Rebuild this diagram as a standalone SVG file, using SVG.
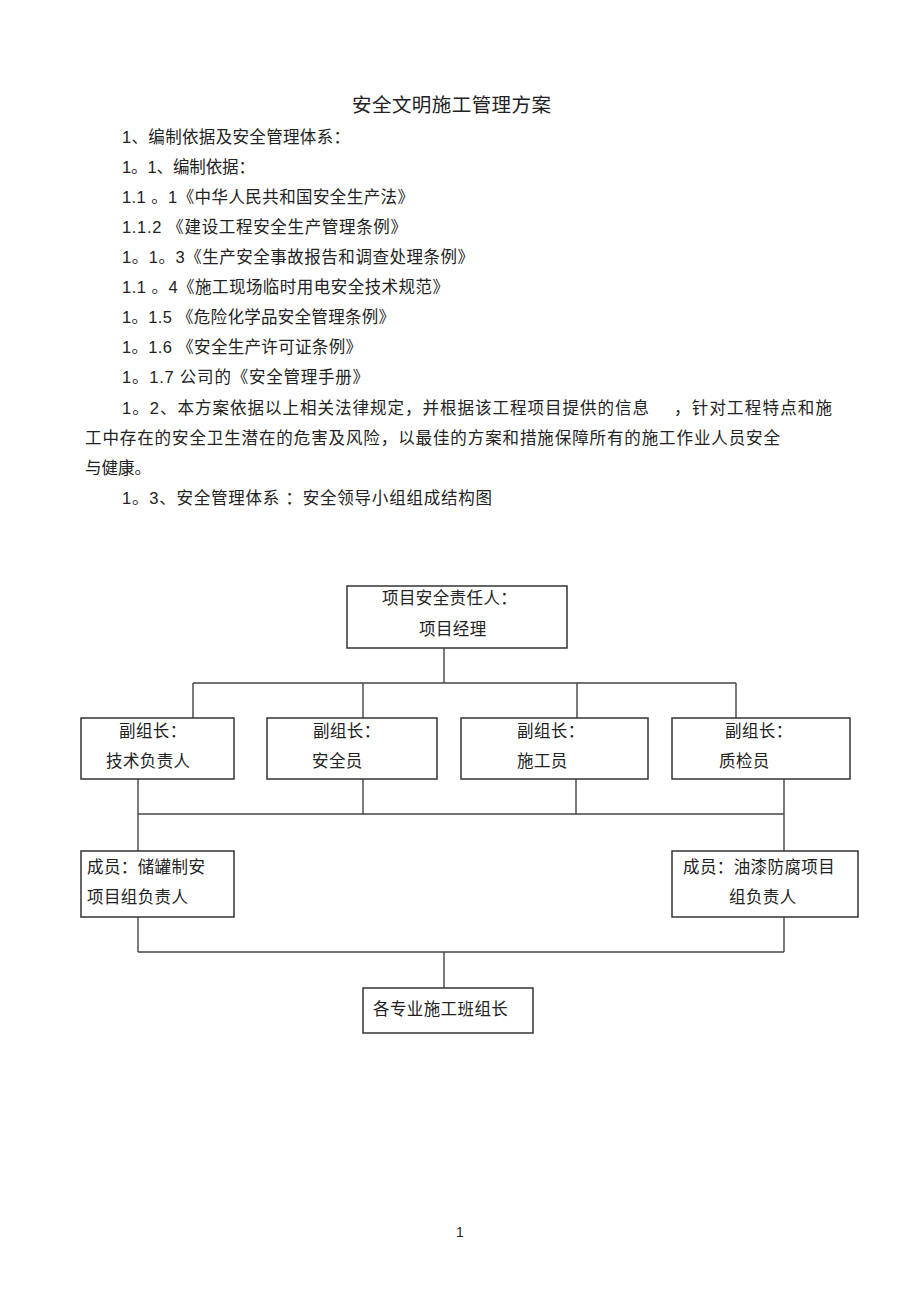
<svg xmlns="http://www.w3.org/2000/svg" width="920" height="1303" viewBox="0 0 920 1303">
<style>
.t{font-family:"Liberation Sans","Noto Sans CJK SC",sans-serif;font-size:16.5px;fill:#222}
.c{font-family:"Liberation Serif","Noto Sans CJK SC",serif;font-size:16.5px;fill:#222;letter-spacing:0.4px}
.box{fill:#fff;stroke:#333;stroke-width:1.5}
.ln{fill:none;stroke:#444;stroke-width:1.4}
</style>
<rect width="920" height="1303" fill="#fff"/>
<g id="text">
<text class="t" x="352" y="112" style="font-size:19.5px" textLength="199" lengthAdjust="spacing">安全文明施工管理方案</text>
<text class="t" x="122" y="143" textLength="228" lengthAdjust="spacing">1、编制依据及安全管理体系：</text>
<text class="t" x="122" y="173" textLength="133" lengthAdjust="spacing">1。1、编制依据：</text>
<text class="t" x="122" y="203" textLength="292" lengthAdjust="spacing">1.1 。1《中华人民共和国安全生产法》</text>
<text class="t" x="122" y="233" textLength="285" lengthAdjust="spacing">1.1.2 《建设工程安全生产管理条例》</text>
<text class="t" x="122" y="263" textLength="352" lengthAdjust="spacing">1。1。3《生产安全事故报告和调查处理条例》</text>
<text class="t" x="122" y="293" textLength="327" lengthAdjust="spacing">1.1 。4《施工现场临时用电安全技术规范》</text>
<text class="t" x="122" y="323" textLength="273" lengthAdjust="spacing">1。1.5 《危险化学品安全管理条例》</text>
<text class="t" x="122" y="353" textLength="240" lengthAdjust="spacing">1。1.6 《安全生产许可证条例》</text>
<text class="t" x="122" y="383" textLength="247" lengthAdjust="spacing">1。1.7  公司的《安全管理手册》</text>
<text class="t" x="122" y="414" textLength="527" lengthAdjust="spacing">1。2、本方案依据以上相关法律规定，并根据该工程项目提供的信息</text>
<text class="t" x="674" y="414" textLength="158" lengthAdjust="spacing">，针对工程特点和施</text>
<text class="t" x="85" y="444" textLength="695" lengthAdjust="spacing">工中存在的安全卫生潜在的危害及风险，以最佳的方案和措施保障所有的施工作业人员安全</text>
<text class="t" x="85" y="474" textLength="66" lengthAdjust="spacing">与健康。</text>
<text class="t" x="122" y="504" textLength="370" lengthAdjust="spacing">1。3、安全管理体系 ：安全领导小组组成结构图</text>
<text class="t" x="456" y="1237" style="font-size:14px">1</text>
</g>
<g id="connectors">
<path class="ln" d="M444 648V683M193 683H736M193 683V718M363 683V718M577 683V718M736 683V718"/>
<path class="ln" d="M138 779V851M363 779V814M576 779V814M784 779V851M138 814H784"/>
<path class="ln" d="M138 917V952M784 917V952M138 952H784M444 952V988"/>
</g>
<g id="n-top">
<rect class="box" x="347" y="586" width="220" height="62"/>
<text class="c" x="382" y="604">项目安全责任人：</text>
<text class="c" x="419" y="635">项目经理</text>
</g>
<g id="n-tech">
<rect class="box" x="81" y="718" width="153" height="61"/>
<text class="c" x="119" y="737">副组长：</text>
<text class="c" x="106" y="767">技术负责人</text>
</g>
<g id="n-safety">
<rect class="box" x="267" y="718" width="170" height="61"/>
<text class="c" x="313" y="737">副组长：</text>
<text class="c" x="312" y="767">安全员</text>
</g>
<g id="n-constr">
<rect class="box" x="461" y="718" width="187" height="61"/>
<text class="c" x="517" y="737">副组长：</text>
<text class="c" x="517" y="767">施工员</text>
</g>
<g id="n-qc">
<rect class="box" x="672" y="718" width="178" height="61"/>
<text class="c" x="725" y="737">副组长：</text>
<text class="c" x="719" y="767">质检员</text>
</g>
<g id="n-tank">
<rect class="box" x="81" y="851" width="153" height="66"/>
<text class="c" x="87" y="873">成员：储罐制安</text>
<text class="c" x="87" y="903">项目组负责人</text>
</g>
<g id="n-paint">
<rect class="box" x="672" y="851" width="186" height="66"/>
<text class="c" x="683" y="873">成员：油漆防腐项目</text>
<text class="c" x="729" y="903">组负责人</text>
</g>
<g id="n-team">
<rect class="box" x="363" y="988" width="170" height="45"/>
<text class="c" x="373" y="1015">各专业施工班组长</text>
</g>
</svg>
